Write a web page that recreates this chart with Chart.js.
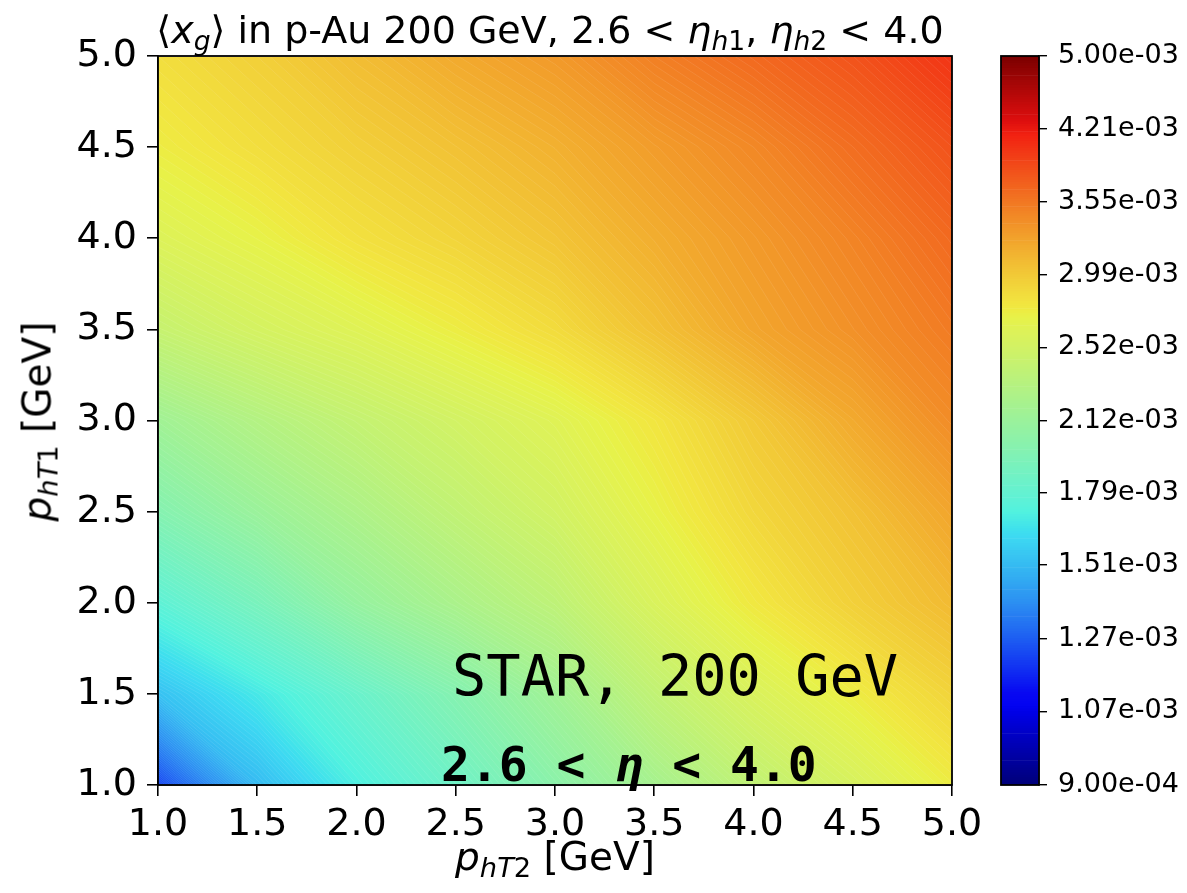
<!DOCTYPE html>
<html>
<head>
<meta charset="utf-8">
<script src="https://cdn.jsdelivr.net/npm/chart.js@4.4.1/dist/chart.umd.min.js"></script>
<style>
  html, body { margin: 0; padding: 0; background: #fff; }
  #wrap { position: relative; width: 1187px; height: 893px; overflow: hidden; font-family: "DejaVu Sans", sans-serif; color: #000; }
  canvas { position: absolute; top: 0; }
  #main { left: 0; }
  #cbar { left: 990px; }
  .txt { position: absolute; white-space: nowrap; line-height: 1; }
  .txt sub { font-size: 0.7em; vertical-align: -0.25em; line-height: 0; }
  .mono { font-family: "DejaVu Sans Mono", monospace; }
</style>
</head>
<body>
<div id="wrap">
  <canvas id="main" width="990" height="893"></canvas>
  <canvas id="cbar" width="197" height="893"></canvas>

  <div class="txt" style="left:0;width:1100px;top:11px;font-size:38px;text-align:center;">⟨<i>x</i><sub><i>g</i></sub>⟩ in p-Au 200 GeV, 2.6 &lt; <i>η</i><sub><i>h</i>1</sub>, <i>η</i><sub><i>h</i>2</sub> &lt; 4.0</div>
  <div class="txt" style="left:0;width:1110px;top:837px;font-size:39px;text-align:center;"><i>p</i><sub><i>hT</i>2</sub> [GeV]</div>
  <div class="txt" style="left:-163px;width:400px;top:402px;height:39px;font-size:39px;text-align:center;transform:rotate(-90deg);"><i>p</i><sub><i>hT</i>1</sub> [GeV]</div>

  <div class="txt mono" style="left:452px;top:648px;font-size:57px;">STAR, 200 GeV</div>
  <div class="txt mono" style="left:441px;top:740px;font-size:48px;font-weight:bold;">2.6 &lt; <i>η</i> &lt; 4.0</div>
</div>

<script>
// pT grid of the map (GeV)
const pT2Values = [1.0, 1.5, 2.0, 2.5, 3.0, 3.5, 4.0, 4.5, 5.0];
const pT1Values = [1.0, 1.5, 2.0, 2.5, 3.0, 3.5, 4.0, 4.5, 5.0];

// <x_g>, in units of 1e-3; one row per pT1, columns follow pT2Values
const XG_UNIT = 1e-3;
const xgPT1_1_0 = [1.22, 1.51, 1.70, 1.85, 2.02, 2.20, 2.39, 2.56, 2.74];
const xgPT1_1_5 = [1.53, 1.67, 1.82, 1.98, 2.16, 2.39, 2.58, 2.74, 2.91];
const xgPT1_2_0 = [1.76, 1.91, 2.09, 2.23, 2.37, 2.58, 2.77, 2.94, 3.09];
const xgPT1_2_5 = [1.98, 2.12, 2.25, 2.39, 2.52, 2.70, 2.89, 3.04, 3.23];
const xgPT1_3_0 = [2.16, 2.29, 2.41, 2.52, 2.63, 2.79, 2.99, 3.20, 3.40];
const xgPT1_3_5 = [2.43, 2.54, 2.63, 2.74, 2.86, 3.04, 3.23, 3.37, 3.52];
const xgPT1_4_0 = [2.61, 2.70, 2.82, 2.91, 3.02, 3.17, 3.31, 3.46, 3.64];
const xgPT1_4_5 = [2.74, 2.84, 2.94, 3.04, 3.15, 3.29, 3.43, 3.61, 3.80];
const xgPT1_5_0 = [2.84, 2.94, 3.07, 3.20, 3.31, 3.49, 3.64, 3.80, 4.02];

// colour bar ticks (log scale)
const colorbarTicks = [9.00e-4, 1.07e-3, 1.27e-3, 1.51e-3, 1.79e-3, 2.12e-3, 2.52e-3, 2.99e-3, 3.55e-3, 4.21e-3, 5.00e-3];

const xgGrid = [xgPT1_1_0, xgPT1_1_5, xgPT1_2_0, xgPT1_2_5, xgPT1_3_0, xgPT1_3_5, xgPT1_4_0, xgPT1_4_5, xgPT1_5_0]
    .map(row => row.map(v => v * XG_UNIT));

const V_MIN = colorbarTicks[0];
const V_MAX = colorbarTicks[colorbarTicks.length - 1];
const FONT = 'DejaVu Sans';

// contour levels: each colour bar interval cut in equal log steps
const SUBSTEPS = 30;
const levels = [];
for (let k = 0; k < colorbarTicks.length - 1; k++) {
    const lo = colorbarTicks[k], hi = colorbarTicks[k + 1];
    for (let s = 0; s < SUBSTEPS; s++) levels.push(lo * Math.pow(hi / lo, s / SUBSTEPS));
}
levels.push(V_MAX);

// matplotlib 'jet', faded in the middle like the scanned figure
function jet(t) {
    t = Math.min(1, Math.max(0, t));
    const seg = pts => {
        for (let i = 0; i < pts.length - 1; i++) {
            const [x0, y0] = pts[i], [x1, y1] = pts[i + 1];
            if (t <= x1) return y0 + (y1 - y0) * (t - x0) / (x1 - x0);
        }
        return pts[pts.length - 1][1];
    };
    const r = seg([[0, 0], [0.35, 0], [0.66, 1], [0.89, 1], [1, 0.5]]);
    const g = seg([[0, 0], [0.125, 0], [0.375, 1], [0.64, 1], [0.91, 0], [1, 0]]);
    const b = seg([[0, 0.5], [0.11, 1], [0.34, 1], [0.65, 0], [1, 0]]);
    const w = seg([[0, 0], [0.1, 0], [0.25, 0.18], [0.4, 0.3], [0.62, 0.3], [0.75, 0.18], [0.88, 0.08], [1, 0]]);
    const fade = c => Math.round(0.95 * ((1 - w) * c * 255 + w * 255));
    return `rgb(${fade(r)},${fade(g)},${fade(b)})`;
}

function bandColor(k) {
    const mid = Math.sqrt(levels[k] * levels[k + 1]);
    return jet(Math.log(mid / V_MIN) / Math.log(V_MAX / V_MIN));
}

// iso-line of the grid at one level, ordered by pT2, closed along the top / bottom edge
function isoLine(level) {
    const nx = pT2Values.length, ny = pT1Values.length;
    const pts = [];
    for (let i = 0; i < nx; i++) {
        for (let j = 0; j < ny - 1; j++) {
            const a = xgGrid[j][i], b = xgGrid[j + 1][i];
            if (a <= level && level < b) {
                pts.push({ x: pT2Values[i], y: pT1Values[j] + (level - a) / (b - a) * (pT1Values[j + 1] - pT1Values[j]) });
            }
        }
    }
    for (let j = 0; j < ny; j++) {
        for (let i = 0; i < nx - 1; i++) {
            const a = xgGrid[j][i], b = xgGrid[j][i + 1];
            if (a <= level && level < b) {
                pts.push({ x: pT2Values[i] + (level - a) / (b - a) * (pT2Values[i + 1] - pT2Values[i]), y: pT1Values[j] });
            }
        }
    }
    const xMin = pT2Values[0], xMax = pT2Values[nx - 1];
    const yMin = pT1Values[0], yMax = pT1Values[ny - 1];
    if (!pts.length) {
        return level < xgGrid[0][0] ? [{ x: xMin, y: yMin }, { x: xMax, y: yMin }] : null;
    }
    pts.sort((p, q) => p.x - q.x || q.y - p.y);
    if (pts[0].x > xMin + 1e-9) pts.unshift({ x: xMin, y: yMax });
    if (pts[pts.length - 1].x < xMax - 1e-9) pts.push({ x: xMax, y: yMin });
    return pts;
}

function sciLabel(v) {
    const [m, e] = v.toExponential(2).split('e');
    const n = parseInt(e, 10);
    return m + 'e' + (n < 0 ? '-' : '+') + String(Math.abs(n)).padStart(2, '0');
}

const framePlugin = {
    id: 'frame',
    afterDraw(chart) {
        const { ctx, chartArea: a } = chart;
        ctx.save();
        ctx.strokeStyle = '#000';
        ctx.lineWidth = 1.8;
        ctx.strokeRect(a.left, a.top, a.right - a.left, a.bottom - a.top);
        ctx.restore();
    }
};

const nBands = levels.length - 1;
const mapDatasets = [];
for (let k = 0; k < nBands; k++) {
    const pts = isoLine(levels[k]);
    if (!pts) continue;
    mapDatasets.push({
        data: pts,
        fill: 'end',
        backgroundColor: bandColor(k),
        // faint seams between the filled levels, as in the contour plot
        borderColor: 'rgba(255,255,255,0.12)',
        borderWidth: 0.8,
        pointRadius: 0,
        tension: 0,
        order: nBands - k
    });
}

const axisTicks = (pad) => ({
    stepSize: 0.5,
    callback: v => Number(v).toFixed(1),
    font: { family: FONT, size: 38 },
    color: '#000',
    padding: pad,
    autoSkip: false,
    maxRotation: 0
});
const axisGrid = { drawOnChartArea: false, drawTicks: true, tickLength: 11, color: '#000', lineWidth: 1.6 };

new Chart(document.getElementById('main'), {
    type: 'line',
    data: { datasets: mapDatasets },
    options: {
        responsive: false,
        animation: false,
        devicePixelRatio: 1,
        events: [],
        layout: { padding: { left: 0, right: 38, top: 56, bottom: 0 } },
        plugins: { legend: { display: false }, tooltip: { enabled: false } },
        scales: {
            x: {
                type: 'linear', min: 1, max: 5,
                ticks: axisTicks(6),
                grid: axisGrid,
                border: { display: true, color: '#000', width: 1.6 },
                afterFit: s => { s.height = 108; }
            },
            y: {
                type: 'linear', min: 1, max: 5,
                ticks: axisTicks(10),
                grid: axisGrid,
                border: { display: true, color: '#000', width: 1.6 },
                afterFit: s => { s.width = 158; }
            }
        }
    },
    plugins: [framePlugin]
});

new Chart(document.getElementById('cbar'), {
    type: 'bar',
    data: {
        labels: [''],
        datasets: levels.slice(0, -1).map((lo, k) => ({
            data: [[lo, levels[k + 1]]],
            backgroundColor: bandColor(k),
            borderWidth: 0,
            grouped: false,
            barPercentage: 1,
            categoryPercentage: 1
        }))
    },
    options: {
        responsive: false,
        animation: false,
        devicePixelRatio: 1,
        events: [],
        layout: { padding: { left: 11, right: 0, top: 56, bottom: 108 } },
        plugins: { legend: { display: false }, tooltip: { enabled: false } },
        scales: {
            x: { display: false },
            y: {
                type: 'logarithmic', position: 'right', min: V_MIN, max: V_MAX,
                afterBuildTicks: s => { s.ticks = colorbarTicks.map(v => ({ value: v })); },
                afterFit: s => { s.width = 148; },
                ticks: { callback: v => sciLabel(v), font: { family: FONT, size: 27 }, color: '#000', padding: 11, autoSkip: false },
                grid: { drawOnChartArea: false, tickLength: 8, color: '#000', lineWidth: 1.4 },
                border: { display: true, color: '#000', width: 1.4 }
            }
        }
    },
    plugins: [framePlugin]
});
</script>
</body>
</html>
